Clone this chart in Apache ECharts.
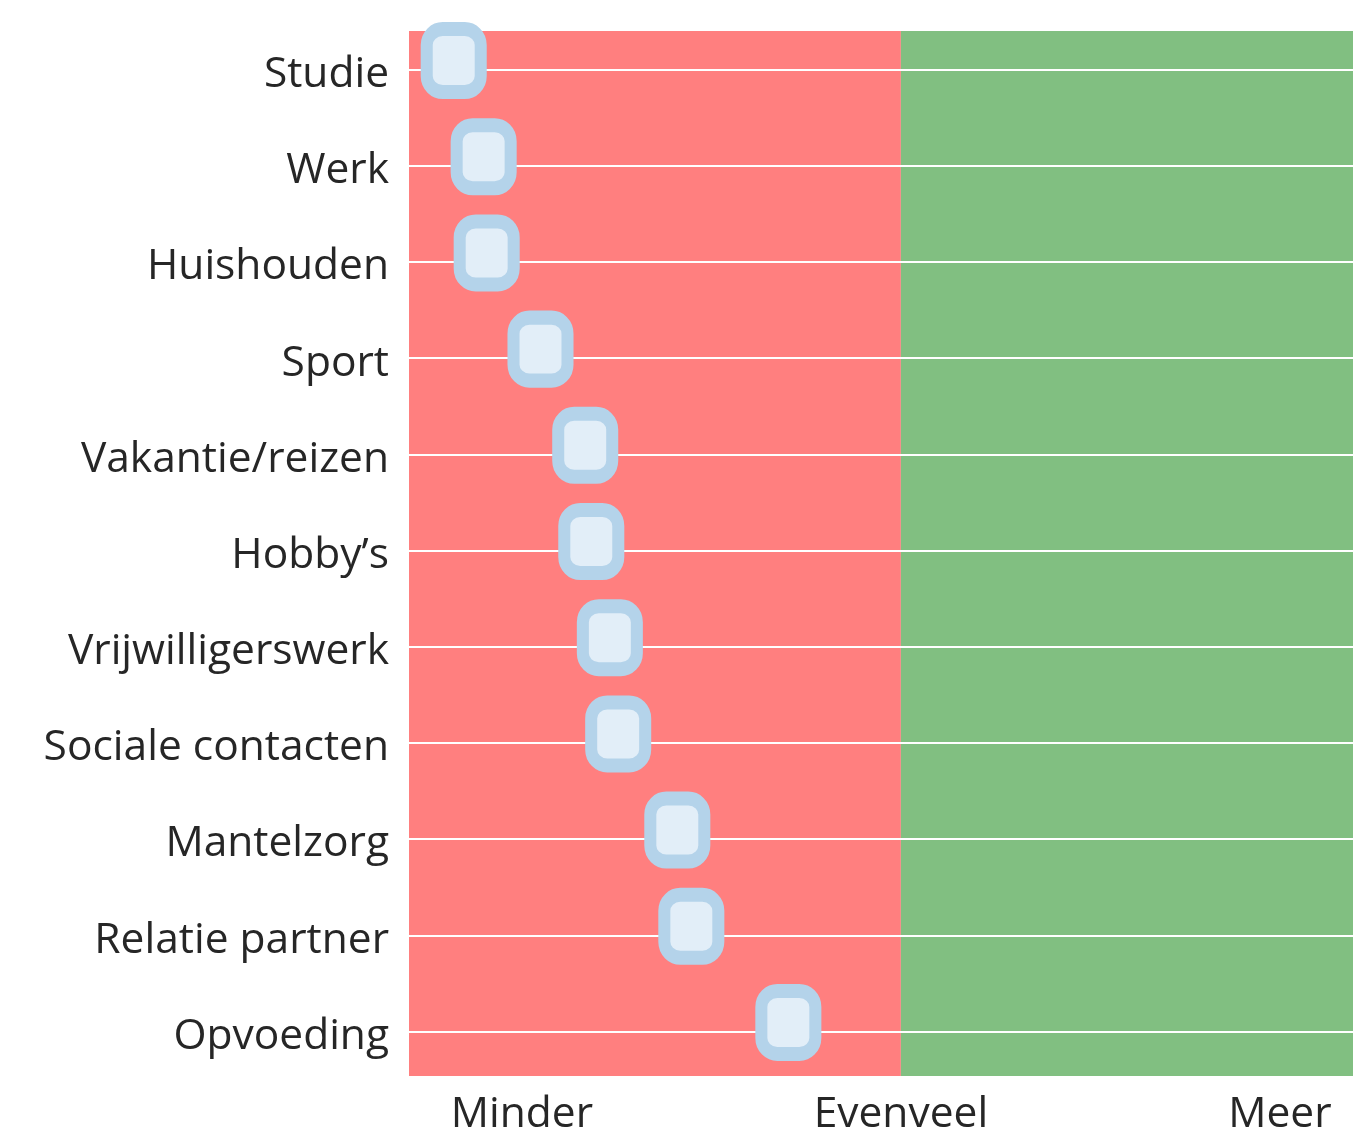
<!DOCTYPE html>
<html>
<head>
<meta charset="utf-8">
<script src="https://cdn.jsdelivr.net/npm/echarts@6/dist/echarts.min.js"></script>
<style>
    html, body { margin: 0; padding: 0; background: #fff; }
    #chart { width: 1353px; height: 1136px; }
</style>
</head>
<body>
<div id="chart"></div>
<script>
// activiteiten (van boven naar beneden)
var categories = ['Studie', 'Werk', 'Huishouden', 'Sport', 'Vakantie/reizen', 'Hobby\u2019s',
    'Vrijwilligerswerk', 'Sociale contacten', 'Mantelzorg', 'Relatie partner', 'Opvoeding'];
// 1 = minder, 2 = evenveel, 3 = meer
var scores = [0.82, 0.899, 0.907, 1.049, 1.167, 1.183, 1.232, 1.254, 1.41, 1.447, 1.703];
var xLabels = ['Minder', 'Evenveel', 'Meer'];
var xTicks = [1, 2, 3];

var xMin = 0.702, xMax = 3.193;
var yMin = -0.401, yMax = 10.463;

var rowIdx = categories.map(function (c, i) { return i; });
var points = scores.map(function (v, i) { return [v, i]; });

// afgeronde rechthoek, ronder dan de standaard roundRect
var markerPath = 'path://M16,0 L38,0 A16,16 0 0 1 54,16 L54,47 A16,16 0 0 1 38,63 ' +
    'L16,63 A16,16 0 0 1 0,47 L0,16 A16,16 0 0 1 16,0 Z';

var myChart = echarts.init(document.getElementById('chart'));
var option = {
    animation: false,
    grid: {
        left: 409,
        right: 0,
        top: 31,
        bottom: 59
    },
    xAxis: {
        type: 'value',
        min: xMin,
        max: xMax,
        axisLine: { show: false },
        axisTick: { show: false },
        splitLine: { show: false },
        axisLabel: {
            customValues: xTicks,
            margin: 17,
            fontFamily: 'Open Sans',
            fontSize: 42.5,
            color: '#262626',
            formatter: function (v) {
                return xLabels[xTicks.indexOf(Math.round(v))] || '';
            }
        }
    },
    yAxis: {
        type: 'value',
        inverse: true,
        min: yMin,
        max: yMax,
        axisLine: { show: false },
        axisTick: { show: false },
        splitLine: { show: false },
        axisLabel: {
            // labels staan iets onder de lijn
            customValues: rowIdx.map(function (i) { return i + 0.055; }),
            margin: 20,
            fontFamily: 'Open Sans',
            fontSize: 42.5,
            color: '#262626',
            formatter: function (v) {
                return categories[Math.round(v)] || '';
            }
        }
    },
    series: [
        {
            // achtergrond + witte lijnen
            type: 'scatter',
            z: 1,
            silent: true,
            data: [],
            markArea: {
                silent: true,
                data: [
                    [{ xAxis: xMin, itemStyle: { color: '#ff7f7f' } }, { xAxis: 2 }],
                    [{ xAxis: 2, itemStyle: { color: '#81bf81' } }, { xAxis: xMax }]
                ]
            },
            markLine: {
                silent: true,
                symbol: 'none',
                label: { show: false },
                lineStyle: { color: '#ffffff', width: 2, type: 'solid' },
                data: rowIdx.map(function (i) { return { yAxis: i }; })
            }
        },
        {
            type: 'scatter',
            z: 5,
            symbol: markerPath,
            symbolSize: [54, 63],
            symbolOffset: [0, -9],
            itemStyle: {
                color: '#e2eef8',
                borderColor: '#b4d3ea',
                borderWidth: 13,
                opacity: 1
            },
            data: points
        }
    ]
};
myChart.setOption(option);
</script>
</body>
</html>
